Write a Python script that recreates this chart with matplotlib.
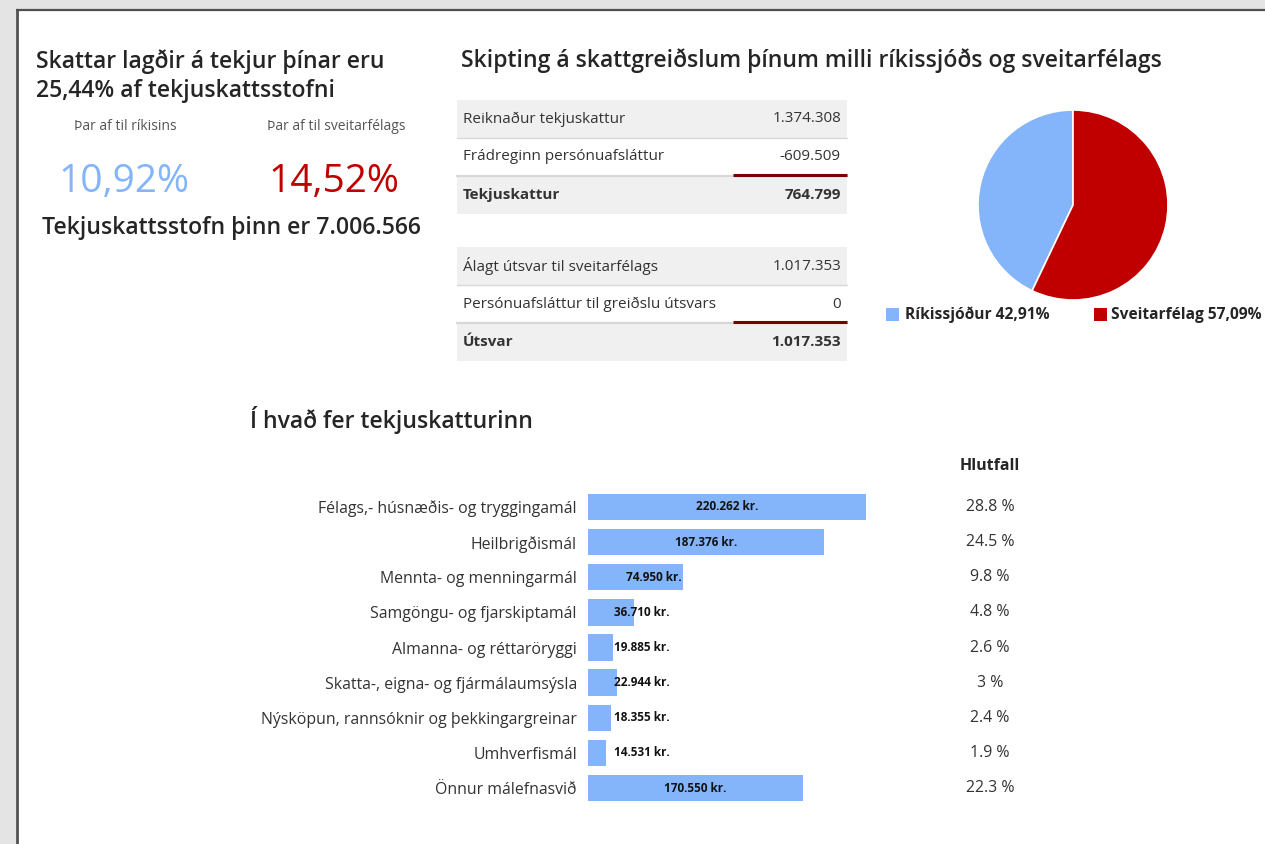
import matplotlib
matplotlib.use("Agg")
import matplotlib.pyplot as plt
from matplotlib.patches import Rectangle

plt.rcParams['font.family'] = ['Open Sans', 'DejaVu Sans']

# ---------------- data ----------------
headline_lines = ["Skattar lagðir á tekjur þínar eru", "25,44% af tekjuskattsstofni"]
share_labels = ["Þar af til ríkisins", "Þar af til sveitarfélags"]
share_values = ["10,92%", "14,52%"]
base_text = "Tekjuskattsstofn þinn er 7.006.566"

table_title = "Skipting á skattgreiðslum þínum milli ríkissjóðs og sveitarfélags"
table1_labels = ["Reiknaður tekjuskattur", "Frádreginn persónuafsláttur", "Tekjuskattur"]
table1_values = ["1.374.308", "-609.509", "764.799"]
table2_labels = ["Álagt útsvar til sveitarfélags", "Persónuafsláttur til greiðslu útsvars", "Útsvar"]
table2_values = ["1.017.353", "0", "1.017.353"]

pie_labels = ["Ríkissjóður", "Sveitarfélag"]
pie_values = [42.91, 57.09]
pie_text = ["Ríkissjóður 42,91%", "Sveitarfélag 57,09%"]

bar_title = "Í hvað fer tekjuskatturinn"
categories = ["Félags,- húsnæðis- og tryggingamál", "Heilbrigðismál", "Mennta- og menningarmál",
              "Samgöngu- og fjarskiptamál", "Almanna- og réttaröryggi",
              "Skatta-, eigna- og fjármálaumsýsla", "Nýsköpun, rannsóknir og þekkingargreinar",
              "Umhverfismál", "Önnur málefnasvið"]
amounts = [220262, 187376, 74950, 36710, 19885, 22944, 18355, 14531, 170550]
amount_labels = ["220.262 kr.", "187.376 kr.", "74.950 kr.", "36.710 kr.", "19.885 kr.",
                 "22.944 kr.", "18.355 kr.", "14.531 kr.", "170.550 kr."]
shares = ["28.8 %", "24.5 %", "9.8 %", "4.8 %", "2.6 %", "3 %", "2.4 %", "1.9 %", "22.3 %"]
share_header = "Hlutfall"

BLUE = "#84B4F9"
RED = "#C00000"
DARKRED = "#7A0000"
TXT = "#252525"
HEAD = 16.6

W, H = 1265, 844
fig = plt.figure(figsize=(W / 100, H / 100), dpi=100)
fig.patch.set_facecolor("#E4E4E4")

# background axes in pixel coordinates
bg = fig.add_axes([0, 0, 1, 1])
bg.set_xlim(0, W)
bg.set_ylim(H, 0)
bg.axis("off")
bg.add_patch(Rectangle((16, 9), W, H, facecolor="white", edgecolor="none", zorder=0))
bg.plot([16.5, 16.5], [10, H], color="#505050", lw=2, zorder=1, solid_capstyle="butt")
bg.plot([16, W], [9.5, 9.5], color="#505050", lw=1.6, zorder=1, solid_capstyle="butt")

# ---- left KPI block ----
bg.text(36, 62, headline_lines[0], fontsize=HEAD, weight="semibold", color=TXT, va="center")
bg.text(36, 91, headline_lines[1], fontsize=HEAD, weight="semibold", color=TXT, va="center")
bg.text(125, 127, share_labels[0], fontsize=10, color="#555555", ha="center", va="center")
bg.text(336, 127, share_labels[1], fontsize=10, color="#555555", ha="center", va="center")
bg.text(124, 182, share_values[0], fontsize=28, color=BLUE, ha="center", va="center")
bg.text(334, 182, share_values[1], fontsize=28, color=RED, ha="center", va="center")
bg.text(231, 228, base_text, fontsize=HEAD, weight="semibold", color=TXT, ha="center", va="center")

# ---- tables ----
bg.text(461, 61, table_title, fontsize=HEAD, weight="semibold", color=TXT, va="center")
tx0, tx1 = 457, 847
row_h = 38


def draw_table(top, labels, values):
    for i, (lab, val) in enumerate(zip(labels, values)):
        y0 = top + i * row_h
        fc = "#F0F0F0" if i != 1 else "white"
        bg.add_patch(Rectangle((tx0, y0), tx1 - tx0, row_h, facecolor=fc, edgecolor="none", zorder=1))
        bold = (i == 2)
        bg.text(463, y0 + row_h / 2, lab, fontsize=11, color="#333333", va="center",
                weight="bold" if bold else "normal", zorder=3)
        bg.text(841, y0 + row_h / 2, val, fontsize=11, color="#333333", va="center", ha="right",
                weight="bold" if bold else "normal", zorder=3)
        if i < 2:
            bg.plot([tx0, tx1], [y0 + row_h, y0 + row_h], color="#D8D8D8",
                    lw=1.0 if i == 0 else 1.6, zorder=2)
    ly = top + 2 * row_h - 1
    bg.plot([733, tx1], [ly, ly], color=DARKRED, lw=2.2, zorder=4, solid_capstyle="butt")


draw_table(100, table1_labels, table1_values)
draw_table(247, table2_labels, table2_values)

# ---- pie ----
cx, cy, r = 1073, 205, 95
pax = fig.add_axes([(cx - r) / W, 1 - (cy + r) / H, 2 * r / W, 2 * r / H])
pax.pie(pie_values, colors=[BLUE, RED], startangle=90, counterclock=True,
        wedgeprops=dict(edgecolor="white", linewidth=1.2))
pax.set_aspect("auto")
pax.set_xlim(-1, 1)
pax.set_ylim(-1, 1)
bg.add_patch(Rectangle((886, 308), 13, 13, facecolor=BLUE, edgecolor="none"))
bg.text(905, 315, pie_text[0], fontsize=11.2, weight="bold", color=TXT, va="center")
bg.add_patch(Rectangle((1094, 308), 13, 13, facecolor=RED, edgecolor="none"))
bg.text(1111, 315, pie_text[1], fontsize=11.2, weight="bold", color=TXT, va="center")

# ---- bar chart ----
bg.text(250, 420, bar_title, fontsize=HEAD, weight="semibold", color=TXT, va="center")
bx0 = 588
xmax = 250000
px_per_unit = 278 / 220262
bw = xmax * px_per_unit
row0, rowN = 507, 788
sp = (rowN - row0) / (len(categories) - 1)
ytop = row0 - sp / 2
ybot = rowN + sp / 2
bax = fig.add_axes([bx0 / W, 1 - ybot / H, bw / W, (ybot - ytop) / H])
ypos = list(range(len(categories)))
bax.barh(ypos, amounts, height=0.75, color=BLUE)
bax.set_xlim(0, xmax)
bax.set_ylim(len(categories) - 0.5, -0.5)
bax.set_yticks(ypos)
bax.set_yticklabels(categories, fontsize=11.4, color="#333333")
bax.tick_params(axis="y", length=0, pad=8)
bax.set_xticks([])
for s in bax.spines.values():
    s.set_visible(False)
bax.patch.set_alpha(0)

label_offset = 45000
min_start = 20600
for yi, (v, lab) in enumerate(zip(amounts, amount_labels)):
    if v > 100000:
        bax.text(v / 2, yi, lab, fontsize=8.5, weight="bold", color="#111111", ha="center", va="center")
    else:
        bax.text(max(min_start, v - label_offset), yi, lab, fontsize=8.5, weight="bold",
                 color="#111111", ha="left", va="center")

bg.text(990, 466, share_header, fontsize=11.5, weight="bold", color=TXT, ha="center", va="center")
for yi, s in enumerate(shares):
    bg.text(990, row0 + yi * sp, s, fontsize=11.4, color="#333333", ha="center", va="center")

fig.savefig("out.png", dpi=100, facecolor=fig.get_facecolor())
